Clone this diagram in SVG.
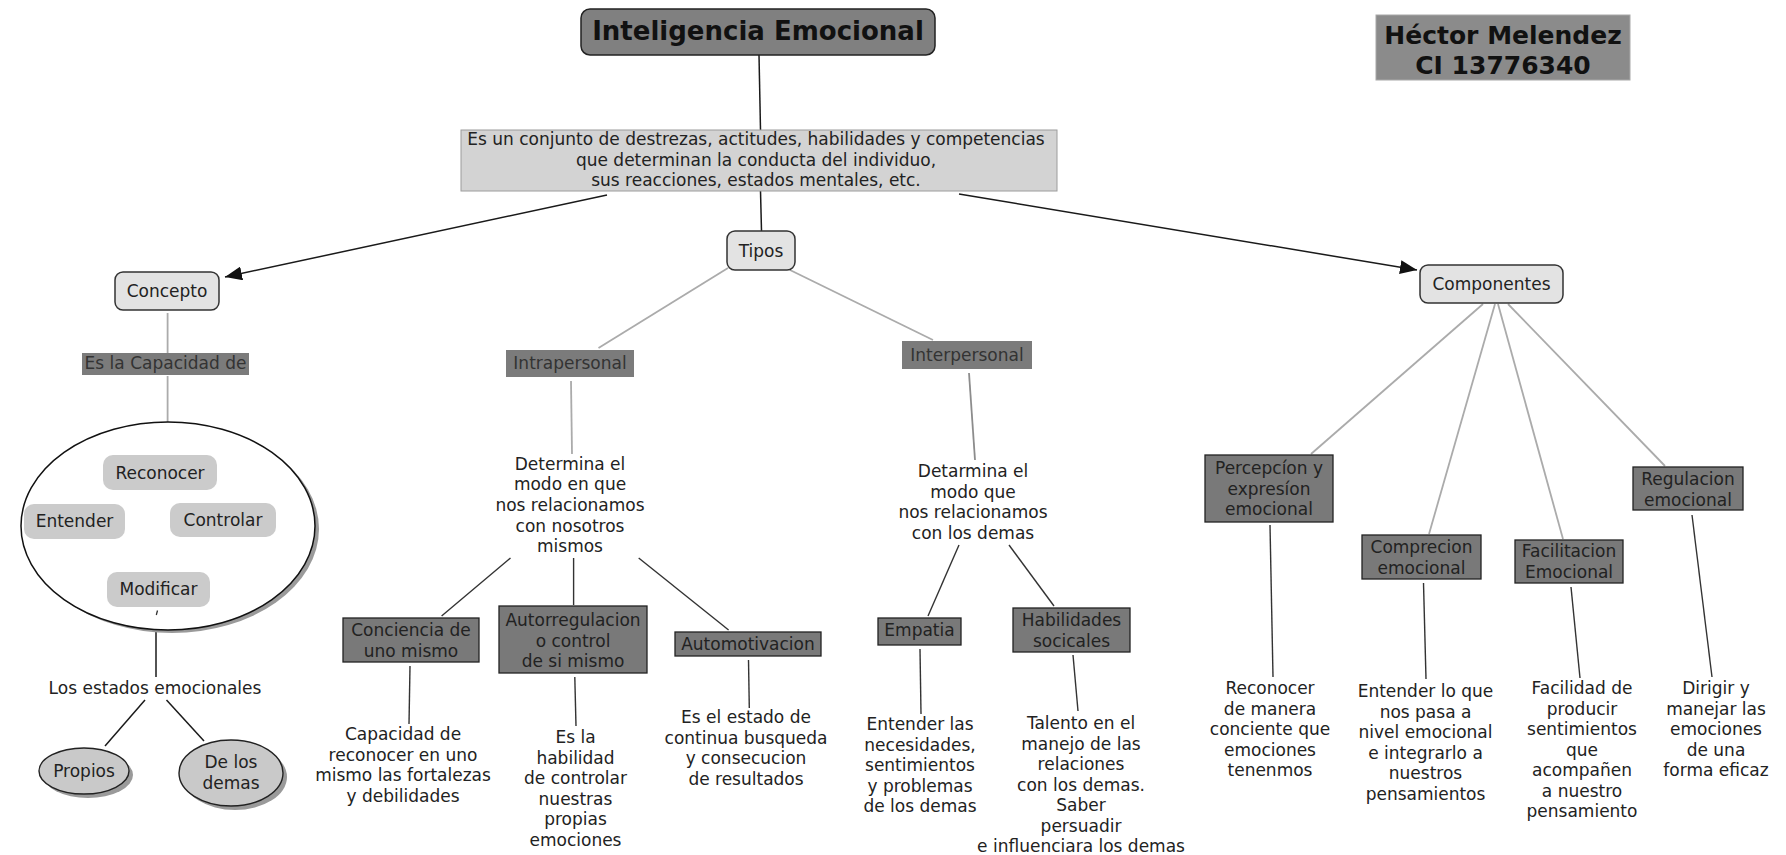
<svg xmlns="http://www.w3.org/2000/svg" width="1786" height="855" viewBox="0 0 1786 855">
<defs>
<marker id="arr" markerUnits="userSpaceOnUse" markerWidth="18" markerHeight="14" refX="17" refY="7" orient="auto">
<path d="M0,0 L17,7 L0,14 z" fill="#111"/>
</marker>
<style>
text{font-family:"DejaVu Sans",Verdana,"Liberation Sans",sans-serif;font-size:17px;fill:#222;text-anchor:middle}
.title{font-size:26px;font-weight:bold;fill:#111}
.hector{font-size:25px;font-weight:bold;fill:#111}
.round{fill:#e3e3e3;stroke:#333;stroke-width:1.5}
.dark{fill:#797979;stroke:#222;stroke-width:1.3}
.mid{fill:#7b7b7b}
.midt{fill:#333}
.pill{fill:#cbcbcb}
.shadow{fill:#9a9a9a}
.c-black{stroke:#1a1a1a;stroke-width:1.5;fill:none}
.c-gray{stroke:#ababab;stroke-width:1.8;fill:none}
.c-dark{stroke:#333;stroke-width:1.4;fill:none}
</style>
</defs>
<rect width="1786" height="855" fill="#fff"/>

<g id="connectors">
<line class="c-black" x1="759" y1="55" x2="760.5" y2="130"/>
<line class="c-black" x1="760.5" y1="191" x2="761.5" y2="231"/>
<line class="c-black" x1="607" y1="195" x2="225" y2="277" marker-end="url(#arr)"/>
<line class="c-black" x1="959" y1="194" x2="1417" y2="270" marker-end="url(#arr)"/>
<line class="c-gray" x1="728" y1="268" x2="598.5" y2="348"/>
<line class="c-gray" x1="790" y1="270" x2="933" y2="340"/>
<line class="c-gray" x1="167.6" y1="313" x2="167.6" y2="353"/>
<line class="c-gray" x1="167.6" y1="376" x2="167.6" y2="422"/>
<line class="c-black" x1="156" y1="630" x2="156" y2="677"/>
<line class="c-black" x1="145" y1="700" x2="105" y2="746"/>
<line class="c-black" x1="166.5" y1="700" x2="204" y2="741"/>
<line class="c-gray" x1="571" y1="381" x2="572" y2="454"/>
<line class="c-dark" x1="510.5" y1="558" x2="441.6" y2="616"/>
<line class="c-dark" x1="573.6" y1="558" x2="573.6" y2="605"/>
<line class="c-dark" x1="638.7" y1="558" x2="728.6" y2="630"/>
<line class="c-dark" x1="410" y1="666" x2="409" y2="724"/>
<line class="c-dark" x1="574.8" y1="677" x2="576" y2="726"/>
<line class="c-dark" x1="748.5" y1="660" x2="749.3" y2="708"/>
<line class="c-gray" x1="969" y1="373" x2="975" y2="460" style="stroke:#8c8c8c"/>
<line class="c-dark" x1="959" y1="545" x2="928" y2="616"/>
<line class="c-dark" x1="1009" y1="545" x2="1054" y2="606"/>
<line class="c-dark" x1="920" y1="649" x2="921" y2="714"/>
<line class="c-dark" x1="1073" y1="655" x2="1078" y2="711"/>
<line class="c-gray" x1="1483" y1="304" x2="1311" y2="454"/>
<line class="c-gray" x1="1495" y1="304" x2="1429" y2="534"/>
<line class="c-gray" x1="1498" y1="304" x2="1563" y2="539"/>
<line class="c-gray" x1="1508" y1="304" x2="1665" y2="466"/>
<line class="c-dark" x1="1270" y1="525" x2="1273" y2="677"/>
<line class="c-dark" x1="1423.5" y1="583" x2="1426" y2="679"/>
<line class="c-dark" x1="1571" y1="587" x2="1580" y2="678"/>
<line class="c-dark" x1="1692" y1="515" x2="1712" y2="677"/>
</g>

<g id="titulo">
<rect x="581" y="9" width="354" height="46" rx="9" fill="#808080" stroke="#222" stroke-width="1.5"/>
<text class="title" x="758" y="40">Inteligencia Emocional</text>
</g>

<g id="hector">
<rect x="1376" y="15" width="254" height="65" fill="#8b8b8b" stroke="#a8a8a8"/>
<text class="hector" x="1503" y="44">Héctor Melendez</text>
<text class="hector" x="1503" y="74">CI 13776340</text>
</g>

<g id="definicion">
<rect x="461" y="130" width="596" height="61" fill="#d3d3d3" stroke="#9c9c9c"/>
<text x="756" y="145">Es un conjunto de destrezas, actitudes, habilidades y competencias<tspan x="756" dy="20.5">que determinan la conducta del individuo,</tspan><tspan x="756" dy="20.5">sus reacciones, estados mentales, etc.</tspan></text>
</g>

<g id="tipos">
<rect class="round" x="727" y="231" width="68" height="39" rx="8"/>
<text x="761" y="257">Tipos</text>
</g>

<g id="concepto">
<rect class="round" x="115" y="272" width="104" height="38" rx="8"/>
<text x="167" y="297">Concepto</text>
</g>

<g id="componentes">
<rect class="round" x="1420" y="265" width="143" height="38" rx="8"/>
<text x="1491.5" y="290">Componentes</text>
</g>

<g id="capacidad">
<rect class="mid" x="82" y="353" width="167" height="22"/>
<text class="midt" x="165.5" y="369">Es la Capacidad de</text>
</g>

<g id="capacidades">
<ellipse class="shadow" cx="172" cy="529" rx="147" ry="104"/>
<ellipse cx="168" cy="526" rx="147" ry="104" fill="#fff" stroke="#111" stroke-width="1.5"/>
<line x1="157.5" y1="610.5" x2="156.3" y2="615" stroke="#333" stroke-width="1.3"/>
</g>

<g id="reconocer">
<rect class="pill" x="103" y="455" width="114" height="35" rx="10"/>
<text x="160" y="479">Reconocer</text>
</g>
<g id="entender">
<rect class="pill" x="24" y="504" width="101" height="35" rx="10"/>
<text x="74.5" y="527">Entender</text>
</g>
<g id="controlar">
<rect class="pill" x="170" y="503" width="106" height="34" rx="10"/>
<text x="223" y="526">Controlar</text>
</g>
<g id="modificar">
<rect class="pill" x="107" y="572" width="103" height="35" rx="10"/>
<text x="158.5" y="595">Modificar</text>
</g>

<g id="estados">
<text x="155" y="694">Los estados emocionales</text>
</g>

<g id="propios">
<ellipse class="shadow" cx="88" cy="775" rx="45" ry="23"/>
<ellipse cx="84" cy="771" rx="45" ry="23" fill="#c9c9c9" stroke="#222" stroke-width="1.4"/>
<text x="84" y="777">Propios</text>
</g>

<g id="delosdemas">
<ellipse class="shadow" cx="235" cy="777" rx="52" ry="33"/>
<ellipse cx="231" cy="773" rx="52" ry="33" fill="#c9c9c9" stroke="#222" stroke-width="1.4"/>
<text x="231" y="768">De los<tspan x="231" dy="21">demas</tspan></text>
</g>

<g id="intrapersonal">
<rect class="mid" x="506" y="350" width="128" height="27"/>
<text class="midt" x="570" y="369">Intrapersonal</text>
</g>

<g id="interpersonal">
<rect class="mid" x="902" y="341" width="130" height="28"/>
<text class="midt" x="967" y="361">Interpersonal</text>
</g>

<g id="determina">
<text x="570" y="469.5">Determina el<tspan x="570" dy="20.7">modo en que</tspan><tspan x="570" dy="20.7">nos relacionamos</tspan><tspan x="570" dy="20.7">con nosotros</tspan><tspan x="570" dy="20.7">mismos</tspan></text>
</g>

<g id="conciencia">
<rect class="dark" x="343" y="618" width="136" height="44"/>
<text x="411" y="636">Conciencia de<tspan x="411" dy="21">uno mismo</tspan></text>
</g>
<g id="autorregulacion">
<rect class="dark" x="499" y="606" width="148" height="67"/>
<text x="573" y="626">Autorregulacion<tspan x="573" dy="20.5">o control</tspan><tspan x="573" dy="20.5">de si mismo</tspan></text>
</g>
<g id="automotivacion">
<rect class="dark" x="675" y="632" width="146" height="24"/>
<text x="748" y="650">Automotivacion</text>
</g>

<g id="capacidad-reconocer">
<text x="403" y="740">Capacidad de<tspan x="403" dy="20.5">reconocer en uno</tspan><tspan x="403" dy="20.5">mismo las fortalezas</tspan><tspan x="403" dy="20.5">y debilidades</tspan></text>
</g>
<g id="habilidad-controlar">
<text x="575.5" y="743">Es la<tspan x="575.5" dy="20.5">habilidad</tspan><tspan x="575.5" dy="20.5">de controlar</tspan><tspan x="575.5" dy="20.5">nuestras</tspan><tspan x="575.5" dy="20.5">propias</tspan><tspan x="575.5" dy="20.5">emociones</tspan></text>
</g>
<g id="estado-busqueda">
<text x="746" y="723">Es el estado de<tspan x="746" dy="20.5">continua busqueda</tspan><tspan x="746" dy="20.5">y consecucion</tspan><tspan x="746" dy="20.5">de resultados</tspan></text>
</g>

<g id="detarmina">
<text x="973" y="477">Detarmina el<tspan x="973" dy="20.6">modo que</tspan><tspan x="973" dy="20.6">nos relacionamos</tspan><tspan x="973" dy="20.6">con los demas</tspan></text>
</g>

<g id="empatia">
<rect class="dark" x="878" y="618" width="83" height="27"/>
<text x="919.5" y="636">Empatia</text>
</g>
<g id="habilidades">
<rect class="dark" x="1013" y="608" width="117" height="44"/>
<text x="1071.5" y="626">Habilidades<tspan x="1071.5" dy="21">socicales</tspan></text>
</g>

<g id="entender-necesidades">
<text x="920" y="730">Entender las<tspan x="920" dy="20.5">necesidades,</tspan><tspan x="920" dy="20.5">sentimientos</tspan><tspan x="920" dy="20.5">y problemas</tspan><tspan x="920" dy="20.5">de los demas</tspan></text>
</g>
<g id="talento">
<text x="1081" y="729">Talento en el<tspan x="1081" dy="20.5">manejo de las</tspan><tspan x="1081" dy="20.5">relaciones</tspan><tspan x="1081" dy="20.5">con los demas.</tspan><tspan x="1081" dy="20.5">Saber</tspan><tspan x="1081" dy="20.5">persuadir</tspan><tspan x="1081" dy="20.5">e influenciara los demas</tspan></text>
</g>

<g id="percepcion">
<rect class="dark" x="1205" y="455" width="128" height="67"/>
<text x="1269" y="474">Percepcíon y<tspan x="1269" dy="20.5">expresíon</tspan><tspan x="1269" dy="20.5">emocional</tspan></text>
</g>
<g id="comprecion">
<rect class="dark" x="1362" y="535" width="119" height="44"/>
<text x="1421.5" y="553">Comprecion<tspan x="1421.5" dy="21">emocional</tspan></text>
</g>
<g id="facilitacion">
<rect class="dark" x="1515" y="540" width="108" height="43"/>
<text x="1569" y="557">Facilitacion<tspan x="1569" dy="21">Emocional</tspan></text>
</g>
<g id="regulacion">
<rect class="dark" x="1633" y="467" width="110" height="43"/>
<text x="1688" y="485">Regulacion<tspan x="1688" dy="20.5">emocional</tspan></text>
</g>

<g id="reconocer-manera">
<text x="1270" y="694">Reconocer<tspan x="1270" dy="20.5">de manera</tspan><tspan x="1270" dy="20.5">conciente que</tspan><tspan x="1270" dy="20.5">emociones</tspan><tspan x="1270" dy="20.5">tenenmos</tspan></text>
</g>
<g id="entender-pasa">
<text x="1425.5" y="697">Entender lo que<tspan x="1425.5" dy="20.5">nos pasa a</tspan><tspan x="1425.5" dy="20.5">nivel emocional</tspan><tspan x="1425.5" dy="20.5">e integrarlo a</tspan><tspan x="1425.5" dy="20.5">nuestros</tspan><tspan x="1425.5" dy="20.5">pensamientos</tspan></text>
</g>
<g id="facilidad">
<text x="1582" y="694">Facilidad de<tspan x="1582" dy="20.5">producir</tspan><tspan x="1582" dy="20.5">sentimientos</tspan><tspan x="1582" dy="20.5">que</tspan><tspan x="1582" dy="20.5">acompañen</tspan><tspan x="1582" dy="20.5">a nuestro</tspan><tspan x="1582" dy="20.5">pensamiento</tspan></text>
</g>
<g id="dirigir">
<text x="1716" y="694">Dirigir y<tspan x="1716" dy="20.5">manejar las</tspan><tspan x="1716" dy="20.5">emociones</tspan><tspan x="1716" dy="20.5">de una</tspan><tspan x="1716" dy="20.5">forma eficaz</tspan></text>
</g>
</svg>
